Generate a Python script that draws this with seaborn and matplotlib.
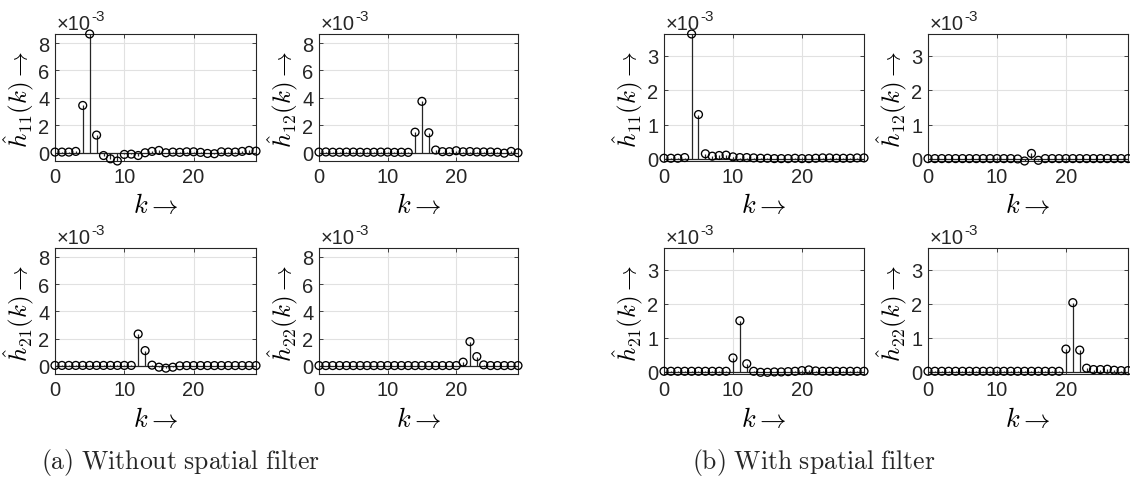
import numpy as np
import pandas as pd
import matplotlib
matplotlib.use("Agg")
import matplotlib.pyplot as plt
import seaborn as sns

# Lag index of the estimated impulse responses
k = np.arange(30)

# Estimated responses in units of 1e-3 -- (a) without spatial filter
h11_a = [0.05, 0.05, 0.05, 0.10, 3.45, 8.66, 1.29, -0.20, -0.44, -0.60,
         -0.12, -0.10, -0.20, 0.00, 0.10, 0.17, 0.00, 0.05, 0.03, 0.07,
         0.07, 0.03, -0.05, -0.07, 0.07, 0.05, 0.05, 0.10, 0.17, 0.12]
h12_a = [0.05, 0.06, 0.04, 0.04, 0.05, 0.05, 0.04, 0.03, 0.04, 0.05,
         0.05, 0.03, 0.04, 0.03, 1.50, 3.75, 1.46, 0.20, 0.08, 0.08,
         0.15, 0.07, 0.09, 0.06, 0.06, 0.06, 0.04, -0.03, 0.10, 0.00]
h21_a = [0.03, 0.03, 0.03, 0.03, 0.03, 0.03, 0.03, 0.03, 0.03, 0.03,
         0.03, 0.03, 2.34, 1.12, 0.05, -0.10, -0.17, -0.10, 0.00, 0.02,
         0.02, 0.02, 0.02, 0.02, 0.02, 0.02, 0.02, 0.02, 0.02, 0.02]
h22_a = [0.02, 0.02, 0.02, 0.02, 0.02, 0.02, 0.02, 0.02, 0.02, 0.02,
         0.02, 0.02, 0.02, 0.02, 0.02, 0.02, 0.02, 0.02, 0.02, 0.02,
         0.02, 0.27, 1.78, 0.68, 0.07, 0.02, 0.02, 0.02, 0.02, 0.02]

# Estimated responses in units of 1e-3 -- (b) with spatial filter
h11_b = [0.02, 0.02, 0.02, 0.04, 3.63, 1.29, 0.15, 0.08, 0.10, 0.11,
         0.06, 0.04, 0.04, 0.03, 0.02, 0.02, 0.01, 0.01, 0.01, 0.02,
         0.01, 0.01, 0.02, 0.03, 0.03, 0.02, 0.02, 0.02, 0.03, 0.03]
h12_b = [0.01, 0.01, 0.01, 0.01, 0.01, 0.01, 0.01, 0.01, 0.01, 0.01,
         0.01, 0.01, 0.01, 0.00, -0.06, 0.16, -0.04, 0.01, 0.01, 0.01,
         0.01, 0.01, 0.01, 0.01, 0.01, 0.01, 0.01, 0.01, 0.01, 0.01]
h21_b = [0.02, 0.02, 0.02, 0.02, 0.02, 0.02, 0.02, 0.02, 0.02, 0.02,
         0.41, 1.50, 0.24, 0.02, -0.01, -0.01, 0.00, 0.00, 0.01, 0.02,
         0.04, 0.06, 0.03, 0.02, 0.02, 0.02, 0.02, 0.02, 0.02, 0.02]
h22_b = [0.02, 0.02, 0.02, 0.02, 0.02, 0.02, 0.02, 0.02, 0.02, 0.02,
         0.02, 0.02, 0.02, 0.02, 0.02, 0.02, 0.02, 0.02, 0.02, 0.02,
         0.67, 2.03, 0.64, 0.11, 0.07, 0.07, 0.08, 0.05, 0.04, 0.04]

ytick_a = [0, 2, 4, 6, 8]
ytick_b = [0, 1, 2, 3]
xtick = [0, 10, 20]
captions = ["(a) Without spatial filter", "(b) With spatial filter"]

sns.set_theme(style="white")
plt.rcParams["font.family"] = ["Liberation Sans", "DejaVu Sans"]
plt.rcParams["mathtext.fontset"] = "cm"

INK = "#262626"
GRID = "#e1e1e1"

W, H = 1130, 485
fig = plt.figure(figsize=(W / 100, H / 100), dpi=100)


def rect(x0, x1, y0, y1):
    return [x0 / W, 1 - y1 / H, (x1 - x0) / W, (y1 - y0) / H]


groups = [
    dict(cols=[(55, 256), (319, 518)], yticks=ytick_a,
         series=[("11", h11_a), ("12", h12_a), ("21", h21_a), ("22", h22_a)]),
    dict(cols=[(664, 864), (928, 1128)], yticks=ytick_b,
         series=[("11", h11_b), ("12", h12_b), ("21", h21_b), ("22", h22_b)]),
]
rows = [(35, 162), (249, 375)]

for g in groups:
    allv = np.concatenate([np.asarray(s) for _, s in g["series"]])
    ylo, yhi = allv.min(), allv.max()
    for i, (idx, vals) in enumerate(g["series"]):
        r, c = divmod(i, 2)
        x0, x1 = g["cols"][c]
        y0, y1 = rows[r]
        ax = fig.add_axes(rect(x0, x1, y0, y1))
        df = pd.DataFrame({"k": k, "h": vals})

        ax.axhline(0, color=INK, lw=0.9, zorder=2)
        ax.vlines(df["k"], 0, df["h"], color=INK, lw=0.9, zorder=2)
        sns.scatterplot(data=df, x="k", y="h", ax=ax, marker="o", s=32,
                        facecolors="none", edgecolor="black", linewidth=0.95,
                        zorder=3, clip_on=False)

        ax.set_xlim(0, 29)
        ax.set_ylim(ylo, yhi)
        ax.set_xticks(xtick)
        ax.set_yticks(g["yticks"])
        ax.grid(True, color=GRID, lw=0.8, zorder=0)
        ax.set_axisbelow(True)
        for sp in ax.spines.values():
            sp.set_color(INK)
            sp.set_linewidth(0.8)
            sp.set_visible(True)
        ax.tick_params(direction="in", length=3, width=0.6, color=INK,
                       labelcolor=INK, labelsize=14.5, top=True, right=True,
                       bottom=True, left=True, pad=4)

        wpx, hpx = x1 - x0, y1 - y0
        ax.set_xlabel(r"$k\rightarrow$", fontsize=19, color="black",
                      va="center")
        ax.set_ylabel(r"$\hat{h}_{%s}(k)\rightarrow$" % idx, fontsize=18,
                      color="black", va="center")
        ax.xaxis.set_label_coords(0.5, -44 / hpx)
        ax.yaxis.set_label_coords(-36 / wpx, 0.49)

        t = ax.text(0.01, 1.005, "\u00d710", transform=ax.transAxes,
                    ha="left", va="bottom", fontsize=14.5, color=INK)
        ax.annotate("-3", xy=(1, 1), xycoords=t, xytext=(0, 4),
                    textcoords="offset points", ha="left", va="top",
                    fontsize=11, color=INK)

fig.text(181 / W, 1 - 463 / H, r"$\mathrm{%s}$" % captions[0].replace(" ", r"\ "),
         ha="center", va="center", fontsize=18.5)
fig.text(814 / W, 1 - 463 / H, r"$\mathrm{%s}$" % captions[1].replace(" ", r"\ "),
         ha="center", va="center", fontsize=18.5)

fig.savefig("out.png", dpi=100)
